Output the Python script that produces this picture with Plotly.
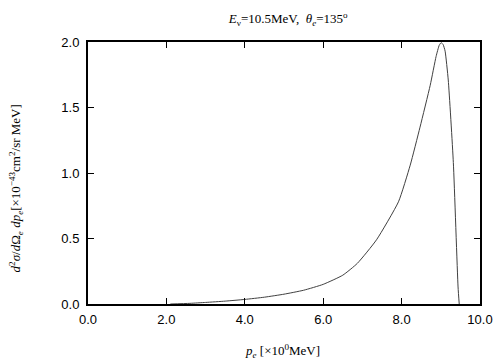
import plotly.graph_objects as go

p_e = [2.1, 2.6, 3.0, 3.5, 4.0, 4.5, 5.0, 5.5, 6.0, 6.5, 6.87, 7.36, 7.92, 8.22, 8.47, 8.73, 8.88, 8.96, 9.01, 9.06, 9.11, 9.19, 9.32, 9.44, 9.47]
xsec = [0.0, 0.005, 0.012, 0.022, 0.035, 0.052, 0.075, 0.105, 0.15, 0.22, 0.31, 0.49, 0.78, 1.06, 1.35, 1.67, 1.89, 1.975, 1.995, 1.98, 1.93, 1.71, 1.08, 0.13, 0.0]

x_ticks = [0, 2, 4, 6, 8, 10]
y_ticks = [0, 0.5, 1.0, 1.5, 2.0]

fig = go.Figure()
fig.add_trace(go.Scatter(x=p_e, y=xsec, mode="lines",
                         line=dict(color="#404040", width=1, shape="spline", smoothing=0.5),
                         showlegend=False))

serif = "Liberation Serif, Times New Roman, serif"
sans = "Liberation Sans, Arial, sans-serif"

# page body has an 8px default margin, so the figure is drawn 8px smaller and offset
fig.update_layout(
    width=496, height=352,
    margin=dict(l=80, r=24, t=34, b=56, autoexpand=False),
    paper_bgcolor="white", plot_bgcolor="white",
    title=dict(text="<i>E</i><sub>ν</sub>=10.5MeV,  <i>θ</i><sub><i>e</i></sub>=135<sup>o</sup>",
               x=0.565, xanchor="center", y=0.97, yanchor="middle",
               font=dict(family=serif, size=13, color="black")),
    font=dict(family=sans, size=13, color="black"),
    annotations=[
        dict(text="<i>p</i><sub><i>e</i></sub> [×10<sup>0</sup>MeV]",
             xref="paper", yref="paper", x=0.497, y=-0.18,
             xanchor="center", yanchor="middle", showarrow=False,
             font=dict(family=serif, size=13, color="black")),
        dict(text="<i>d</i><sup>2</sup><i>σ</i>/<i>d</i>Ω<sub><i>e</i></sub> <i>dp</i><sub><i>e</i></sub>[×10<sup>−43</sup>cm<sup>2</sup>/sr MeV]",
             xref="paper", yref="paper", x=-0.185, y=0.443, textangle=-90,
             xanchor="center", yanchor="middle", showarrow=False,
             font=dict(family=serif, size=13, color="black")),
    ],
)
fig.update_xaxes(
    range=[0, 10], tickvals=x_ticks, tickformat=".1f",
    ticks="inside", ticklen=6, tickwidth=1, tickcolor="black",
    showline=True, linewidth=2, linecolor="black", mirror="allticks",
    showgrid=False, zeroline=False, automargin=False, ticklabelstandoff=2,
    tickfont=dict(family=sans, size=13),
)
fig.update_yaxes(
    range=[0, 2.0], tickvals=y_ticks, tickformat=".1f",
    ticks="inside", ticklen=6, tickwidth=1, tickcolor="black",
    showline=True, linewidth=2, linecolor="black", mirror="allticks",
    showgrid=False, zeroline=False, automargin=False, ticklabelstandoff=4,
    tickfont=dict(family=sans, size=13),
)

fig.write_html("out.html")
